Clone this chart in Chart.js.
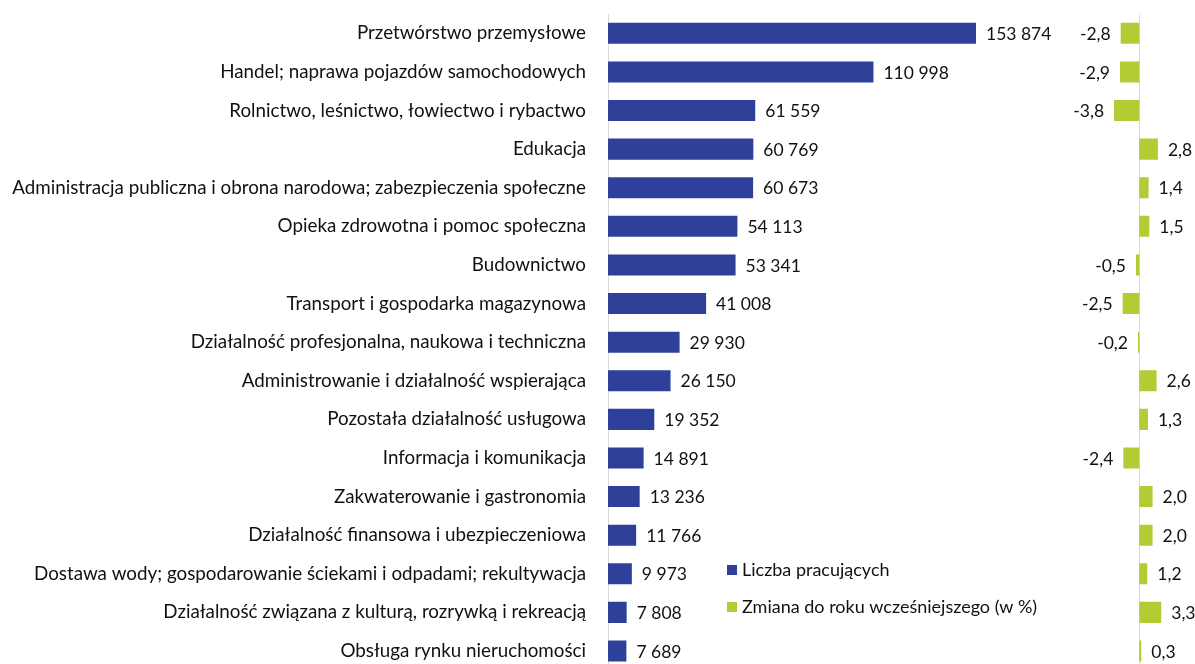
<!DOCTYPE html>
<html><head><meta charset="utf-8">
<script src="https://cdn.jsdelivr.net/npm/chart.js@4"></script>
<style>
html,body{margin:0;padding:0;background:#fff;overflow:hidden;width:1195px;height:664px;}
#c1{position:absolute;left:0;top:0;}
#c2{position:absolute;left:1000px;top:0;}
</style></head><body>
<canvas id="c1" width="1080" height="684"></canvas>
<canvas id="c2" width="195" height="684"></canvas>
<script>
const categories = [
 "Przetwórstwo przemysłowe",
 "Handel; naprawa pojazdów samochodowych",
 "Rolnictwo, leśnictwo, łowiectwo i rybactwo",
 "Edukacja",
 "Administracja publiczna i obrona narodowa; zabezpieczenia społeczne",
 "Opieka zdrowotna i pomoc społeczna",
 "Budownictwo",
 "Transport i gospodarka magazynowa",
 "Działalność profesjonalna, naukowa i techniczna",
 "Administrowanie i działalność wspierająca",
 "Pozostała działalność usługowa",
 "Informacja i komunikacja",
 "Zakwaterowanie i gastronomia",
 "Działalność finansowa i ubezpieczeniowa",
 "Dostawa wody; gospodarowanie ściekami i odpadami; rekultywacja",
 "Działalność związana z kulturą, rozrywką i rekreacją",
 "Obsługa rynku nieruchomości"
];
const employed = [153874,110998,61559,60769,60673,54113,53341,41008,29930,26150,19352,14891,13236,11766,9973,7808,7689];
const changePct = [-2.8,-2.9,-3.8,2.8,1.4,1.5,-0.5,-2.5,-0.2,2.6,1.3,-2.4,2.0,2.0,1.2,3.3,0.3];
const seriesNames = ["Liczba pracujących","Zmiana do roku wcześniejszego (w %)"];

const BLUE = "#2E4099", GREEN = "#B3CB35", AXIS = "#D9D9D9", TXT = "#111";
const FONT = "Lato, 'Open Sans', sans-serif";
const FS = 17.5, FS_CAT = 18.8, FS_LEG = 18;

const fmtInt = v => String(v).replace(/\B(?=(\d{3})+(?!\d))/g, " ");
const fmtPct = v => v.toFixed(1).replace(".", ",");

const labelPlugin = {
  id: "vals",
  afterDatasetsDraw(chart, args, opts) {
    const ctx = chart.ctx;
    ctx.save();
    ctx.font = FS + "px " + FONT;
    ctx.fillStyle = TXT;
    ctx.textBaseline = "middle";
    chart.data.datasets.forEach((ds, di) => {
      chart.getDatasetMeta(di).data.forEach((el, i) => {
        const v = ds.data[i];
        const neg = v < 0;
        ctx.textAlign = neg ? "right" : "left";
        ctx.fillText(opts.fmt(v), el.x + (neg ? -10 : 10), el.y + 1);
      });
    });
    ctx.restore();
  }
};

const legendPlugin = {
  id: "customLegend",
  afterDraw(chart) {
    const ctx = chart.ctx;
    ctx.save();
    ctx.font = FS_LEG + "px " + FONT;
    ctx.textBaseline = "middle";
    ctx.textAlign = "left";
    const items = [[seriesNames[0], BLUE, 570], [seriesNames[1], GREEN, 607]];
    items.forEach(([t, c, y]) => {
      ctx.fillStyle = c;
      ctx.fillRect(727, y - 5, 10, 10);
      ctx.fillStyle = TXT;
      ctx.fillText(t, 742, y);
    });
    ctx.restore();
  }
};

const zeroLine = {
  id: "zeroLine",
  beforeDatasetsDraw(chart) {
    const ctx = chart.ctx, x = Math.round(chart.scales.x.getPixelForValue(0)) + 0.5;
    ctx.save();
    ctx.strokeStyle = AXIS; ctx.lineWidth = 1;
    ctx.beginPath(); ctx.moveTo(x, chart.chartArea.top + 1); ctx.lineTo(x, chart.chartArea.bottom); ctx.stroke();
    ctx.restore();
  }
};

Chart.defaults.font.family = FONT;
Chart.defaults.font.size = FS;
Chart.defaults.color = TXT;

new Chart(document.getElementById("c1"), {
  type: "bar",
  data: { labels: categories, datasets: [{ label: seriesNames[0], data: employed, backgroundColor: BLUE, barPercentage: 0.545, categoryPercentage: 1 }] },
  options: {
    indexAxis: "y", responsive: false, animation: false,
    layout: { padding: { top: 14, bottom: 13.7, right: 41.5, left: 0 } },
    plugins: { legend: { display: false }, tooltip: { enabled: false }, vals: { fmt: fmtInt } },
    scales: {
      x: { display: false, min: 0, max: 180000 },
      y: { grid: { display: false, drawTicks: false }, border: { color: AXIS },
           ticks: { padding: 22, color: TXT, font: { size: FS_CAT } },
           afterFit(s) { s.width = 608; s.paddingTop = 0; s.paddingBottom = 0; } }
    }
  },
  plugins: [labelPlugin, legendPlugin]
});

new Chart(document.getElementById("c2"), {
  type: "bar",
  data: { labels: categories, datasets: [{ label: seriesNames[1], data: changePct, backgroundColor: GREEN, barPercentage: 0.545, categoryPercentage: 1 }] },
  options: {
    indexAxis: "y", responsive: false, animation: false,
    layout: { padding: { top: 14, bottom: 13.7, right: 29.1, left: 112.7 } },
    plugins: { legend: { display: false }, tooltip: { enabled: false }, vals: { fmt: fmtPct } },
    scales: { x: { display: false, min: -4, max: 4 }, y: { display: false } }
  },
  plugins: [zeroLine, labelPlugin]
});
</script>
</body></html>
